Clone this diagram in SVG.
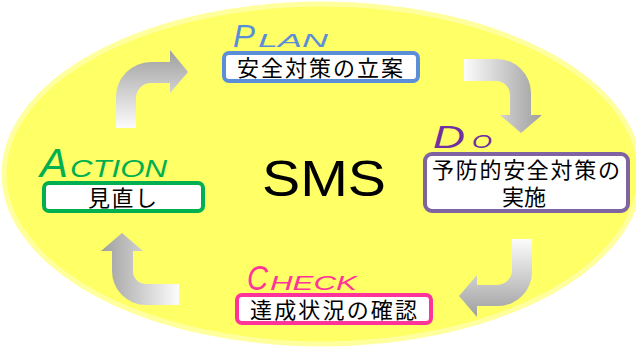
<svg xmlns="http://www.w3.org/2000/svg" width="636" height="347" viewBox="0 0 636 347">
<defs>
<linearGradient id="gUp" x1="0" y1="0" x2="0" y2="1"><stop offset="0" stop-color="#9E9E9E"/><stop offset="1" stop-color="#FCFCFC"/></linearGradient>
<linearGradient id="gDown" x1="0" y1="0" x2="0" y2="1"><stop offset="0" stop-color="#FCFCFC"/><stop offset="1" stop-color="#9E9E9E"/></linearGradient>
<linearGradient id="gRight" x1="0" y1="0" x2="1" y2="0"><stop offset="0" stop-color="#FCFCFC"/><stop offset="1" stop-color="#9E9E9E"/></linearGradient>
<linearGradient id="gLeft" x1="0" y1="0" x2="1" y2="0"><stop offset="0" stop-color="#9E9E9E"/><stop offset="1" stop-color="#FCFCFC"/></linearGradient>
</defs>
<style>
.box{fill:#FFFFFF;stroke-width:4}
.jp{font-family:"Noto Sans CJK JP","Noto Sans CJK SC",sans-serif;font-size:22px;fill:#000}
.lbl{font-family:"Liberation Sans",Arial,sans-serif;font-style:italic}
</style>
<ellipse cx="322" cy="174" rx="318" ry="170" fill="#FFFF66" stroke="#FFFF9E" stroke-width="5"/>
<g id="connectors">
<path d="M116,128 L116,97 A35,35 0 0 1 151,62 L170,62 L170,50 L188,72 L170,93 L170,83 L151,83 A15,15 0 0 0 136,98 L136,128 Z" fill="url(#gUp)"/>
<path d="M464,59 L497,59 A34,34 0 0 1 531,93 L531,115 L542,115 L521,133 L500,115 L510,115 L510,95 A14,14 0 0 0 496,81 L464,81 Z" fill="url(#gRight)"/>
<path d="M532,239 L532,272 A34,34 0 0 1 498,306 L477,306 L477,317 L459,296 L477,275 L477,285 L497,285 A15,15 0 0 0 512,270 L512,239 Z" fill="url(#gDown)"/>
<path d="M179,305 L146,305 A34,34 0 0 1 112,271 L112,251 L101,251 L122,233 L143,251 L133,251 L133,271 A13,13 0 0 0 146,284 L179,284 Z" fill="url(#gLeft)"/>
</g>
<g id="sms">
<text x="262" y="196" font-family="Liberation Sans, Arial, sans-serif" font-size="50" textLength="124" lengthAdjust="spacingAndGlyphs" fill="#000">SMS</text>
</g>
<g id="plan">
<text class="lbl" y="47" fill="#5A8ED8"><tspan x="233" font-size="32" textLength="22" lengthAdjust="spacingAndGlyphs">P</tspan><tspan x="258" font-size="18" textLength="70" lengthAdjust="spacingAndGlyphs">LAN</tspan></text>
<rect class="box" x="224" y="53" width="194" height="28" rx="5" stroke="#5A8ED8"/>
<text class="jp" x="237" y="76" textLength="166">安全対策の立案</text>
</g>
<g id="do">
<text class="lbl" y="148" fill="#7030A0"><tspan x="433" font-size="32" textLength="32" lengthAdjust="spacingAndGlyphs">D</tspan><tspan x="472" font-size="18" textLength="20" lengthAdjust="spacingAndGlyphs">O</tspan></text>
<rect class="box" x="425" y="154" width="203" height="57" rx="7" stroke="#8064A2"/>
<text class="jp" x="432" y="178" textLength="188">予防的安全対策の</text>
<text class="jp" x="524" y="205" text-anchor="middle">実施</text>
</g>
<g id="check">
<text class="lbl" y="290" fill="#FF3399"><tspan x="247" font-size="35" textLength="21" lengthAdjust="spacingAndGlyphs">C</tspan><tspan x="270" font-size="21" textLength="87" lengthAdjust="spacingAndGlyphs">HECK</tspan></text>
<rect class="box" x="237" y="295" width="194" height="28" rx="5" stroke="#FF3399"/>
<text class="jp" x="250" y="318" textLength="167">達成状況の確認</text>
</g>
<g id="action">
<text class="lbl" y="177" fill="#00B050"><tspan x="40" font-size="40" textLength="28" lengthAdjust="spacingAndGlyphs">A</tspan><tspan x="70" font-size="23" textLength="97" lengthAdjust="spacingAndGlyphs">CTION</tspan></text>
<rect class="box" x="44" y="183" width="159" height="28" rx="5" stroke="#00B050"/>
<text class="jp" x="88" y="206" textLength="69">見直し</text>
</g>
</svg>
